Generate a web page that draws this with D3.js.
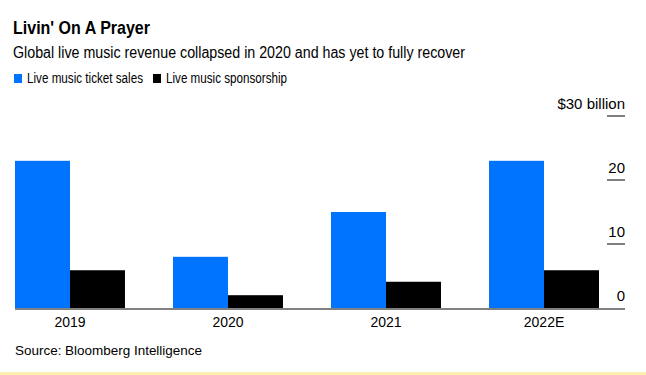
<!DOCTYPE html>
<html lang="en">
<head>
    <meta charset="UTF-8">
    <title>Livin' On A Prayer</title>
    <script src="https://d3js.org/d3.v7.min.js"></script>
    <style>
        body {
            margin: 0;
            background: #fff;
            font-family: "Liberation Sans", Arial, Helvetica, sans-serif;
        }
        .title { font-size: 19px; font-weight: bold; fill: #000; }
        .subtitle { font-size: 16px; fill: #000; }
        .legend-text { font-size: 14px; fill: #000; }
        .tick-label { font-size: 15px; fill: #000; }
        .source { font-size: 13.5px; fill: #000; }
    </style>
</head>
<body>
    <svg id="chart" width="646" height="375"></svg>
    <script>
        // Values in $ billion
        const years = ["2019", "2020", "2021", "2022E"];
        const series = ["Live music ticket sales", "Live music sponsorship"];
        const ticketSales = [23.0, 8.0, 15.0, 23.0];
        const sponsorship = [5.9, 2.0, 4.1, 5.9];
        const colors = ["#0073ff", "#000000"];
        const yTicks = [0, 10, 20, 30];

        const svg = d3.select("#chart");

        // the original font is narrower than Arial, so squeeze the long texts
        function squeeze(sel, w) {
            sel.attr("textLength", w).attr("lengthAdjust", "spacingAndGlyphs");
        }

        // bottom yellow strip
        svg.append("rect")
            .attr("x", 0).attr("y", 372)
            .attr("width", 646).attr("height", 3)
            .attr("fill", "#fcefb4");

        svg.append("text").attr("class", "title")
            .attr("x", 13).attr("y", 34)
            .text("Livin' On A Prayer")
            .call(squeeze, 137);
        svg.append("text").attr("class", "subtitle")
            .attr("x", 13).attr("y", 58)
            .text("Global live music revenue collapsed in 2020 and has yet to fully recover")
            .call(squeeze, 452);

        // legend
        const legendX = [14, 153];
        const legendW = [116, 121];
        series.forEach((s, i) => {
            svg.append("rect")
                .attr("x", legendX[i]).attr("y", 74)
                .attr("width", 8).attr("height", 9)
                .attr("fill", colors[i]);
            svg.append("text").attr("class", "legend-text")
                .attr("x", legendX[i] + 13).attr("y", 83)
                .text(s)
                .call(squeeze, legendW[i]);
        });

        const x = d3.scaleBand()
            .domain(years)
            .range([15, 599])
            .paddingInner(0.304)
            .paddingOuter(0);

        const xSub = d3.scaleBand()
            .domain(series)
            .range([0, x.bandwidth()]);

        const y = d3.scaleLinear()
            .domain([0, 30])
            .range([308, 116]);

        const rows = years.map((yr, i) => ({
            year: yr,
            values: [
                { key: series[0], value: ticketSales[i] },
                { key: series[1], value: sponsorship[i] }
            ]
        }));

        const groups = svg.selectAll(".group")
            .data(rows)
            .enter()
            .append("g")
            .attr("class", "group")
            .attr("transform", d => `translate(${x(d.year)},0)`);

        groups.selectAll("rect")
            .data(d => d.values)
            .enter()
            .append("rect")
            .attr("x", d => xSub(d.key))
            .attr("width", xSub.bandwidth())
            .attr("y", d => y(d.value))
            .attr("height", d => y(0) - y(d.value))
            .attr("fill", (d, i) => colors[i]);

        // y axis on the right: short tick lines with labels above
        yTicks.forEach(t => {
            if (t > 0) {
                svg.append("line")
                    .attr("x1", 607).attr("x2", 625)
                    .attr("y1", y(t)).attr("y2", y(t))
                    .attr("stroke", "#000").attr("stroke-width", 1);
            }
            svg.append("text").attr("class", "tick-label")
                .attr("x", 625).attr("y", y(t) - 7)
                .attr("text-anchor", "end")
                .text(t === 30 ? "$30 billion" : t);
        });

        // baseline
        svg.append("line")
            .attr("x1", 15).attr("x2", 625)
            .attr("y1", y(0) + 1).attr("y2", y(0) + 1)
            .attr("stroke", "#808080").attr("stroke-width", 2);

        // x labels
        const xAxis = d3.axisBottom(x).tickSize(0).tickPadding(0);
        const gx = svg.append("g")
            .attr("transform", `translate(0,${y(0) + 19})`)
            .call(xAxis);
        gx.select(".domain").remove();
        gx.selectAll("text")
            .attr("dy", 0)
            .style("font-family", "\"Liberation Sans\", Arial, sans-serif")
            .style("font-size", "14px")
            .attr("fill", "#000");

        svg.append("text").attr("class", "source")
            .attr("x", 15).attr("y", 355)
            .text("Source: Bloomberg Intelligence")
            .call(squeeze, 187);
    </script>
</body>
</html>
